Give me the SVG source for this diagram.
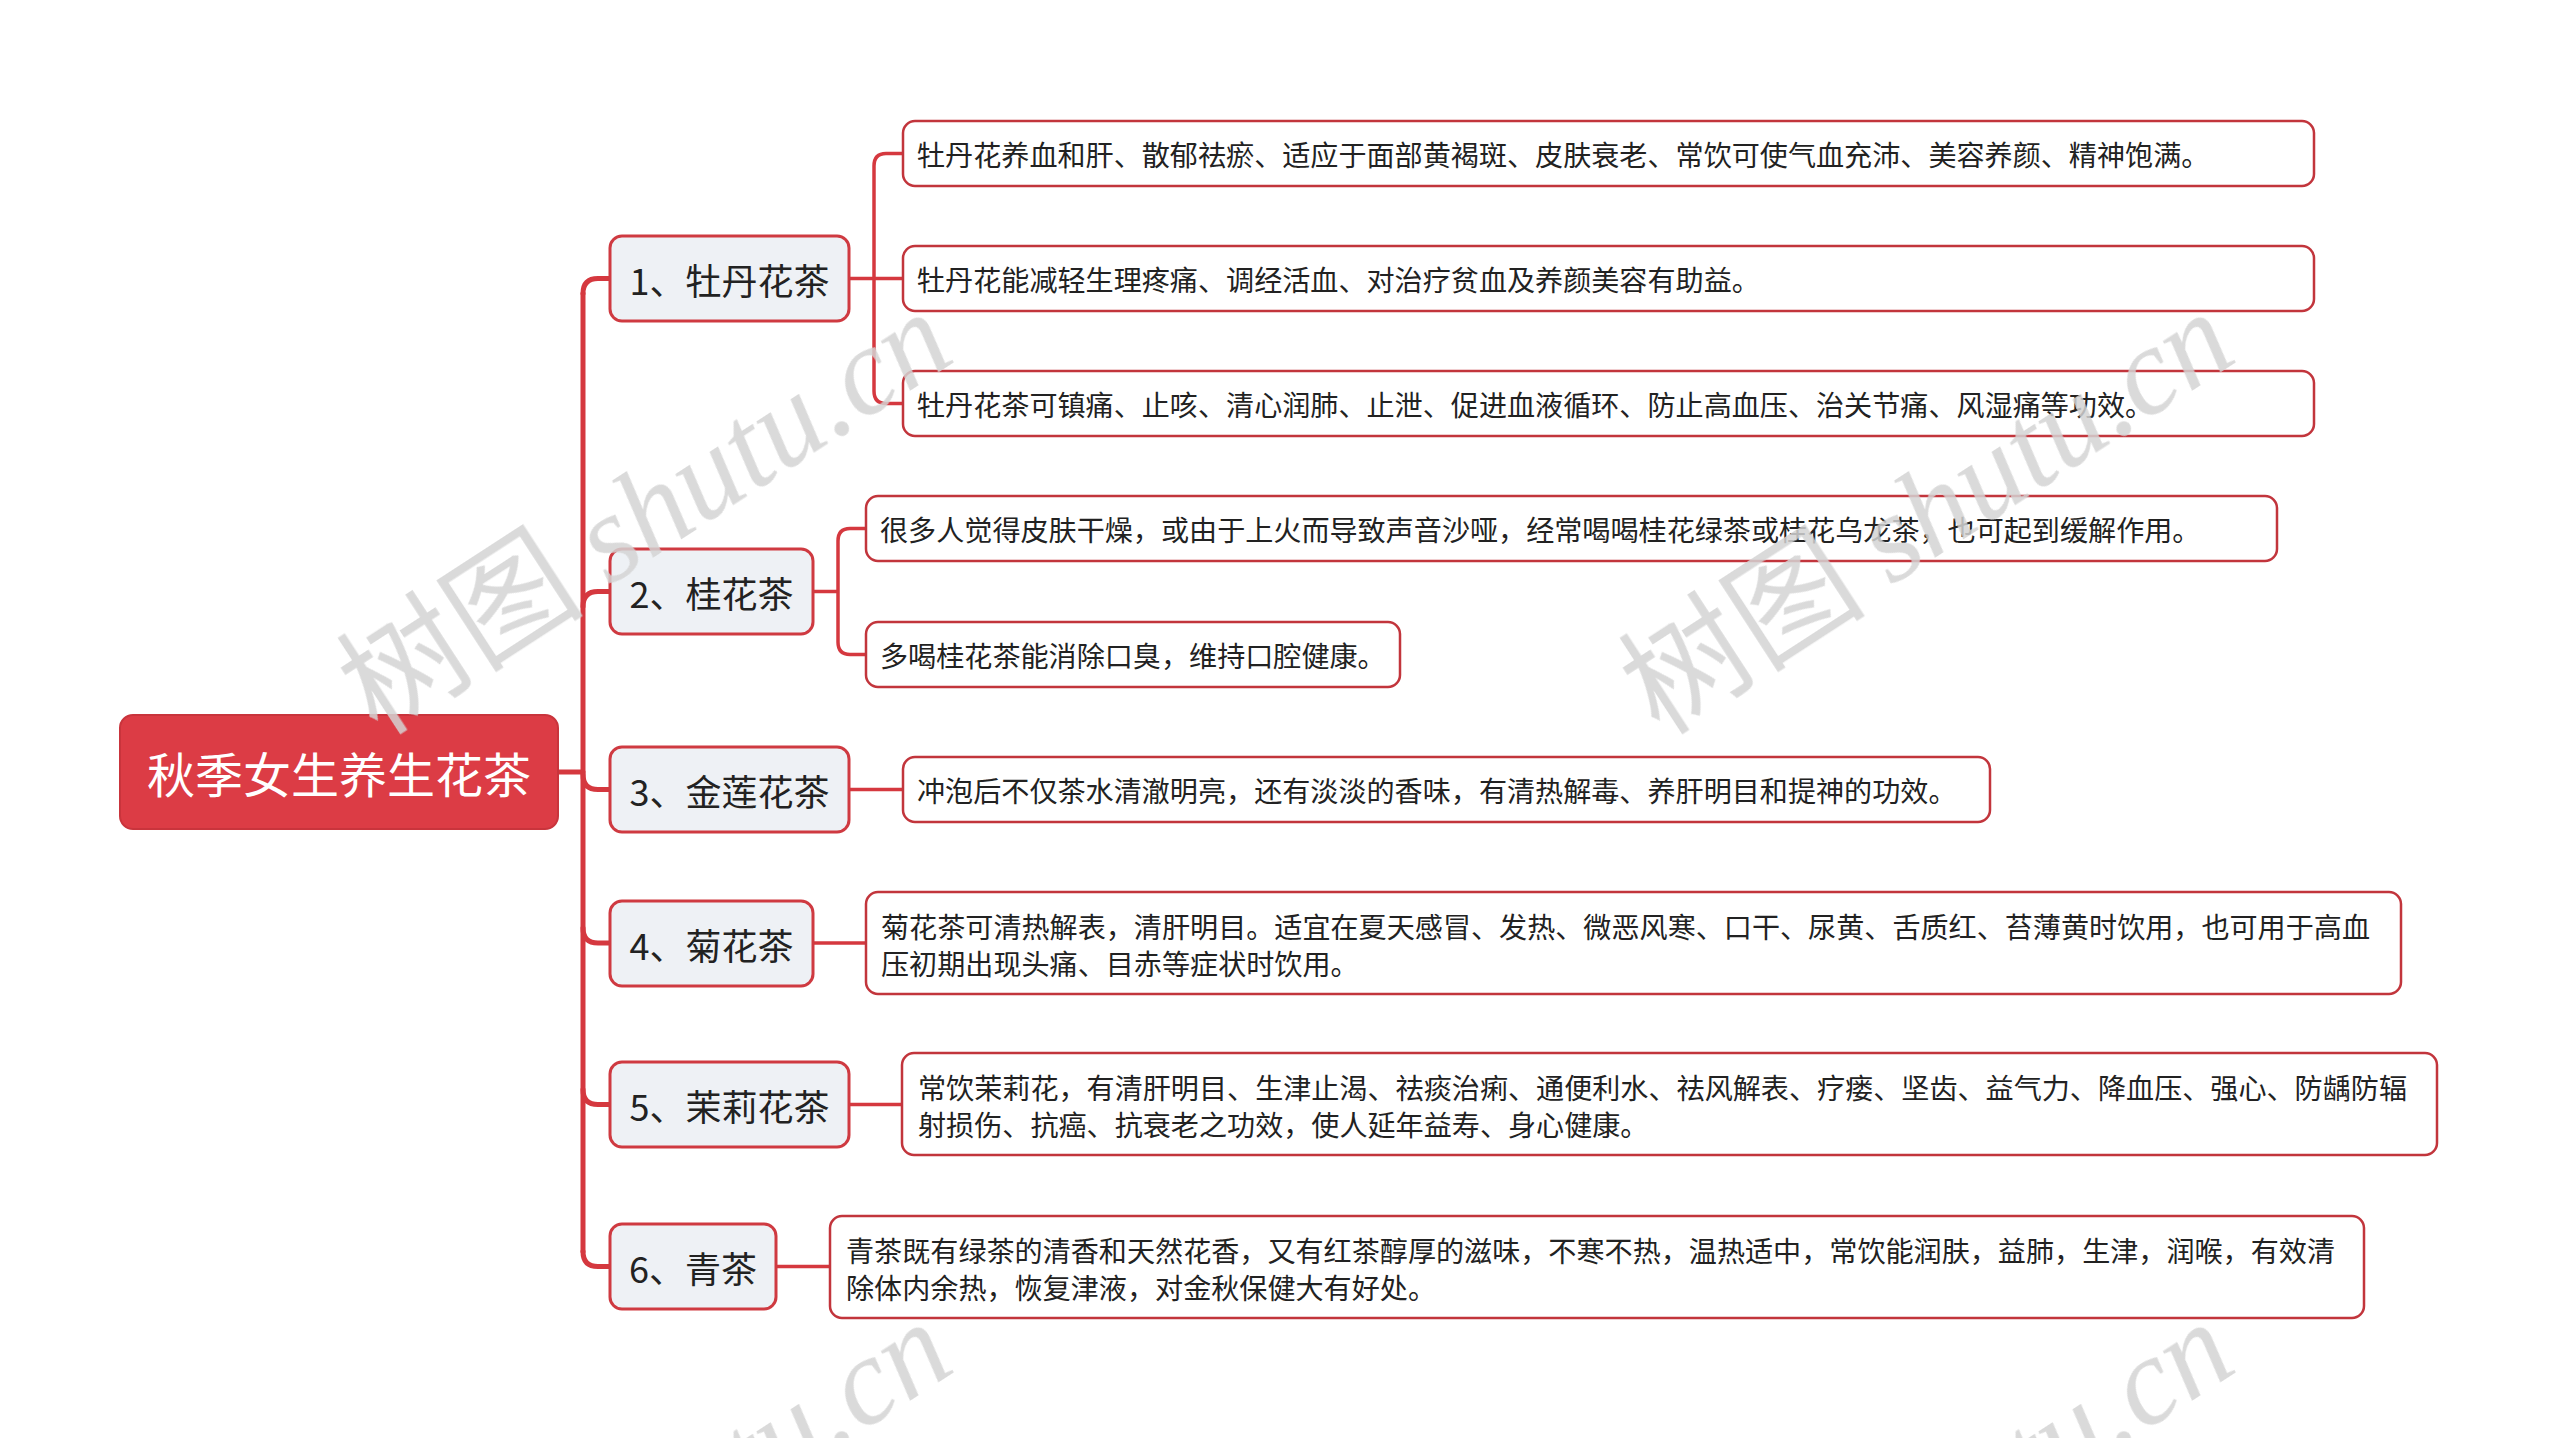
<svg xmlns="http://www.w3.org/2000/svg" width="2560" height="1438" viewBox="0 0 2560 1438">
<style>
.bg{fill:#ffffff}
.root rect{fill:#dc3c45;stroke:#c9343c;stroke-width:2}
.root text{fill:#ffffff;font-family:"Noto Sans CJK SC","Noto Sans",sans-serif;font-size:48px;text-anchor:middle;dominant-baseline:central}
.topic rect{fill:#eef1f5;stroke:#cf3a41;stroke-width:3}
.topic text{fill:#222222;font-family:"Noto Sans CJK SC","Noto Sans",sans-serif;font-size:36px;text-anchor:middle;dominant-baseline:central}
.sub rect{fill:#ffffff;stroke:#c2353c;stroke-width:2.5}
.sub text{fill:#222222;font-family:"Noto Sans CJK SC","Noto Sans",sans-serif;font-size:28.1px;dominant-baseline:central}
.trunk{fill:none;stroke:#d5383f;stroke-width:5;stroke-linecap:round}
.branch{fill:none;stroke:#d5383f;stroke-width:3.5}
.wm{fill:#d4d4d4;font-size:124px;text-anchor:middle}
.wm .cjk{font-family:"Noto Sans CJK SC",serif}
.wm .lat{font-family:"Liberation Serif",serif;font-style:italic}
</style>
<rect class="bg" x="0" y="0" width="2560" height="1438"/>

<g id="connectors">
  <path class="trunk" d="M558,772 L583,772"/>
  <path class="trunk" d="M583,293.5 L583,1251.5"/>
  <path class="trunk" d="M583,293.5 Q583,278.5 598,278.5 L610,278.5"/>
  <path class="trunk" d="M583,606.5 Q583,591.5 598,591.5 L610,591.5"/>
  <path class="trunk" d="M583,774.5 Q583,789.5 598,789.5 L610,789.5"/>
  <path class="trunk" d="M583,928 Q583,943 598,943 L610,943"/>
  <path class="trunk" d="M583,1089.5 Q583,1104.5 598,1104.5 L610,1104.5"/>
  <path class="trunk" d="M583,1251.5 Q583,1266.5 598,1266.5 L610,1266.5"/>

  <path class="branch" d="M849,278.5 L903,278.5"/>
  <path class="branch" d="M874,166 L874,391"/>
  <path class="branch" d="M874,166 Q874,153.5 886,153.5 L903,153.5"/>
  <path class="branch" d="M874,391 Q874,403.5 886,403.5 L903,403.5"/>

  <path class="branch" d="M813,591.5 L838,591.5"/>
  <path class="branch" d="M838,541 L838,642"/>
  <path class="branch" d="M838,541 Q838,528.5 850,528.5 L866,528.5"/>
  <path class="branch" d="M838,642 Q838,654.5 850,654.5 L866,654.5"/>

  <path class="branch" d="M849,789.5 L903,789.5"/>
  <path class="branch" d="M813,943 L866,943"/>
  <path class="branch" d="M849,1104.5 L902,1104.5"/>
  <path class="branch" d="M776,1266.5 L830,1266.5"/>
</g>

<g id="root" class="root">
  <rect x="120" y="715" width="438" height="114" rx="13"/>
  <text x="339" y="772">秋季女生养生花茶</text>
</g>

<g id="t1" class="topic"><rect x="610" y="236" width="239" height="85" rx="12"/><text x="729.5" y="278.5">1、牡丹花茶</text></g>
<g id="t2" class="topic"><rect x="610" y="549" width="203" height="85" rx="12"/><text x="711.5" y="591.5">2、桂花茶</text></g>
<g id="t3" class="topic"><rect x="610" y="747" width="239" height="85" rx="12"/><text x="729.5" y="789.5">3、金莲花茶</text></g>
<g id="t4" class="topic"><rect x="610" y="901" width="203" height="85" rx="12"/><text x="711.5" y="943.5">4、菊花茶</text></g>
<g id="t5" class="topic"><rect x="610" y="1062" width="239" height="85" rx="12"/><text x="729.5" y="1104.5">5、茉莉花茶</text></g>
<g id="t6" class="topic"><rect x="610" y="1224" width="166" height="85" rx="12"/><text x="693" y="1266.5">6、青茶</text></g>

<g id="s1a" class="sub"><rect x="903" y="121" width="1411" height="65" rx="12"/><text x="917" y="153.5">牡丹花养血和肝、散郁祛瘀、适应于面部黄褐斑、皮肤衰老、常饮可使气血充沛、美容养颜、精神饱满。</text></g>
<g id="s1b" class="sub"><rect x="903" y="246" width="1411" height="65" rx="12"/><text x="917" y="278.5">牡丹花能减轻生理疼痛、调经活血、对治疗贫血及养颜美容有助益。</text></g>
<g id="s1c" class="sub"><rect x="903" y="371" width="1411" height="65" rx="12"/><text x="917" y="403.5">牡丹花茶可镇痛、止咳、清心润肺、止泄、促进血液循环、防止高血压、治关节痛、风湿痛等功效。</text></g>
<g id="s2a" class="sub"><rect x="866" y="496" width="1411" height="65" rx="12"/><text x="880" y="528.5">很多人觉得皮肤干燥，或由于上火而导致声音沙哑，经常喝喝桂花绿茶或桂花乌龙茶，也可起到缓解作用。</text></g>
<g id="s2b" class="sub"><rect x="866" y="622" width="534" height="65" rx="12"/><text x="880" y="654.5">多喝桂花茶能消除口臭，维持口腔健康。</text></g>
<g id="s3" class="sub"><rect x="903" y="757" width="1087" height="65" rx="12"/><text x="917" y="789.5">冲泡后不仅茶水清澈明亮，还有淡淡的香味，有清热解毒、养肝明目和提神的功效。</text></g>
<g id="s4" class="sub"><rect x="866" y="892" width="1535" height="102" rx="12"/><text x="881" y="925">菊花茶可清热解表，清肝明目。适宜在夏天感冒、发热、微恶风寒、口干、尿黄、舌质红、苔薄黄时饮用，也可用于高血</text><text x="881" y="962">压初期出现头痛、目赤等症状时饮用。</text></g>
<g id="s5" class="sub"><rect x="902" y="1053" width="1535" height="102" rx="12"/><text x="918" y="1086">常饮茉莉花，有清肝明目、生津止渴、祛痰治痢、通便利水、祛风解表、疗瘘、坚齿、益气力、降血压、强心、防龋防辐</text><text x="918" y="1123">射损伤、抗癌、抗衰老之功效，使人延年益寿、身心健康。</text></g>
<g id="s6" class="sub"><rect x="830" y="1216" width="1534" height="102" rx="12"/><text x="846" y="1249">青茶既有绿茶的清香和天然花香，又有红茶醇厚的滋味，不寒不热，温热适中，常饮能润肤，益肺，生津，润喉，有效清</text><text x="846" y="1286">除体内余热，恢复津液，对金秋保健大有好处。</text></g>

<g id="watermarks" class="wm" opacity="0.85">
  <text transform="translate(668,548) rotate(-33)"><tspan class="cjk">树图 </tspan><tspan class="lat">shutu.cn</tspan></text>
  <text transform="translate(1950,548) rotate(-33)"><tspan class="cjk">树图 </tspan><tspan class="lat">shutu.cn</tspan></text>
  <text transform="translate(668,1558) rotate(-33)"><tspan class="cjk">树图 </tspan><tspan class="lat">shutu.cn</tspan></text>
  <text transform="translate(1950,1558) rotate(-33)"><tspan class="cjk">树图 </tspan><tspan class="lat">shutu.cn</tspan></text>
</g>
</svg>
